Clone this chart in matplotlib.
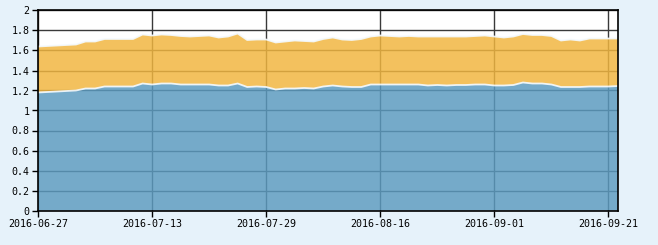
import matplotlib
matplotlib.use("Agg")
import matplotlib.pyplot as plt
import numpy as np
import pandas as pd

# Trading days (China A-share), 2016-06-27 .. 2016-09-22 (Mid-Autumn holiday excluded)
holidays = ["2016-09-15", "2016-09-16"]
dates = [d.strftime("%Y-%m-%d") for d in pd.bdate_range("2016-06-27", "2016-09-22")
         if d.strftime("%Y-%m-%d") not in holidays]

series_a = [1.18, 1.185, 1.19, 1.195, 1.20, 1.22, 1.22, 1.24, 1.24, 1.24,
            1.24, 1.27, 1.26, 1.27, 1.27, 1.26, 1.26, 1.26, 1.26, 1.25,
            1.25, 1.27, 1.235, 1.24, 1.235, 1.21, 1.22, 1.22, 1.225, 1.22,
            1.24, 1.25, 1.24, 1.235, 1.235, 1.26, 1.26, 1.26, 1.26, 1.26,
            1.26, 1.25, 1.255, 1.25, 1.255, 1.255, 1.26, 1.26, 1.25, 1.25,
            1.255, 1.28, 1.27, 1.27, 1.26, 1.235, 1.235, 1.235, 1.24, 1.24,
            1.24, 1.245]
series_b = [0.46, 0.46, 0.46, 0.46, 0.46, 0.47, 0.47, 0.475, 0.475, 0.475,
            0.475, 0.49, 0.49, 0.49, 0.485, 0.485, 0.48, 0.485, 0.49, 0.48,
            0.49, 0.50, 0.47, 0.47, 0.475, 0.47, 0.47, 0.48, 0.47, 0.47,
            0.475, 0.48, 0.47, 0.47, 0.48, 0.48, 0.49, 0.485, 0.48, 0.485,
            0.48, 0.49, 0.485, 0.49, 0.485, 0.485, 0.485, 0.49, 0.49, 0.48,
            0.485, 0.485, 0.485, 0.485, 0.485, 0.465, 0.475, 0.465, 0.48, 0.48,
            0.48, 0.475]

tick_labels = ["2016-06-27", "2016-07-13", "2016-07-29", "2016-08-16", "2016-09-01", "2016-09-21"]
y_ticks = [0, 0.2, 0.4, 0.6, 0.8, 1, 1.2, 1.4, 1.6, 1.8, 2]
y_labels = ["0", "0.2", "0.4", "0.6", "0.8", "1", "1.2", "1.4", "1.6", "1.8", "2"]

W, H = 658, 245
fig = plt.figure(figsize=(W / 100, H / 100), dpi=100)
fig.patch.set_facecolor("#E6F2FA")
ax = fig.add_axes([38 / W, (H - 210.5) / H, (618 - 38) / W, 200 / H])
ax.set_facecolor("white")

x = np.arange(len(dates))
a = np.array(series_a)
b = np.array(series_b)

ax.stackplot(x, a, b, colors=["#5B9ABF", "#F1B63F"], alpha=0.84, zorder=3, linewidth=0)
ax.plot(x, a, color="#F4FAFF", lw=1.3, alpha=0.9, zorder=4)
ax.plot(x, a + b, color="#F4FAFF", lw=1.3, alpha=0.9, zorder=4)

ax.set_xlim(0, len(dates) - 1)
ax.set_ylim(0, 2)
tick_idx = [dates.index(t) for t in tick_labels]
ax.set_xticks(tick_idx)
ax.set_xticklabels(tick_labels)
ax.set_yticks(y_ticks)
ax.set_yticklabels(y_labels)

ax.grid(True, color="#3A3A3A", lw=1.0, zorder=1)
ax.set_axisbelow(True)
for s in ax.spines.values():
    s.set_color("black")
    s.set_linewidth(1.2)
    s.set_zorder(5)

ax.tick_params(axis="both", direction="out", length=4, width=1, color="black",
               labelsize=7.2, pad=2)
for lab in ax.get_xticklabels() + ax.get_yticklabels():
    lab.set_family("DejaVu Sans Mono")

fig.savefig("out.png", dpi=100, facecolor=fig.get_facecolor())
